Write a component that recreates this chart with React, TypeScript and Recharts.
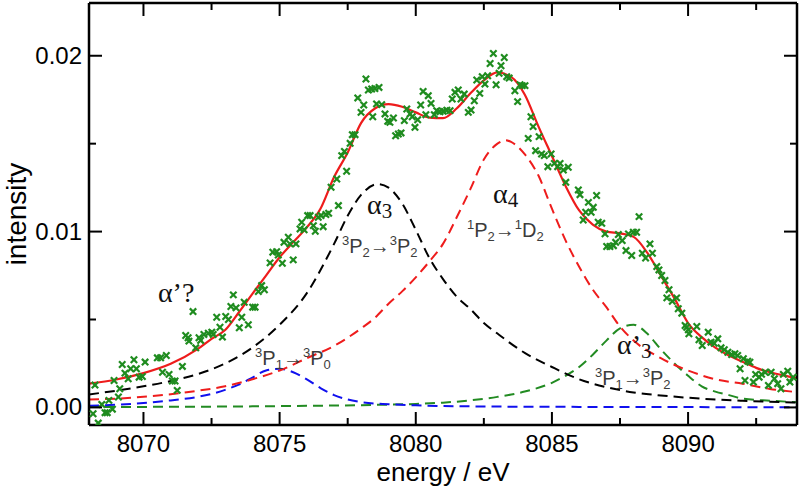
import React from "react";
import { ComposedChart, Line, Scatter, XAxis, YAxis, ReferenceDot } from "recharts";

// measured spectrum [energy eV, intensity]
const measured: [number, number][] = [
  [8068.15, -0.00036], [8068.22, 0.00127], [8068.34, -0.00089], [8068.47, 0.00017], [8068.59, -0.0003],
  [8068.67, -0.0003], [8068.73, 0.0004], [8068.86, -0.0001], [8068.92, 0.00153], [8069.08, 0.00059],
  [8069.13, 0.00106], [8069.22, 0.00244], [8069.32, 0.00195], [8069.44, 0.00163], [8069.53, 0.0022],
  [8069.65, 0.00271], [8069.74, 0.0022], [8069.84, 0.00172], [8069.96, 0.00176], [8070.06, 0.00258],
  [8070.51, 0.00282], [8070.63, 0.00282], [8070.7, 0.002], [8070.84, 0.00295], [8070.94, 0.00188],
  [8071.06, 0.0015], [8071.16, 0.0015], [8071.24, 0.00097], [8071.43, 0.00233], [8071.55, 0.00409],
  [8071.64, 0.00396], [8071.67, 0.00377], [8071.82, 0.00545], [8071.92, 0.00339], [8072.04, 0.00396],
  [8072.1, 0.00381], [8072.22, 0.00415], [8072.38, 0.00422], [8072.51, 0.00428], [8072.56, 0.00415],
  [8072.69, 0.00513], [8072.81, 0.00456], [8072.9, 0.004], [8073.02, 0.00517], [8073.12, 0.005],
  [8073.21, 0.00574], [8073.3, 0.0064], [8073.4, 0.00566], [8073.52, 0.00453], [8073.61, 0.00513],
  [8073.7, 0.00598], [8073.85, 0.0047], [8074.01, 0.0057], [8074.1, 0.0057], [8074.22, 0.00659],
  [8074.34, 0.00693], [8074.44, 0.00669], [8074.65, 0.00822], [8074.75, 0.00883], [8074.89, 0.00886],
  [8074.95, 0.00867], [8075.1, 0.0082], [8075.16, 0.00939], [8075.32, 0.00968], [8075.38, 0.0093],
  [8075.5, 0.00839], [8075.6, 0.0093], [8075.75, 0.01015], [8075.81, 0.01053], [8075.9, 0.0101],
  [8076.03, 0.01091], [8076.12, 0.01091], [8076.24, 0.01034], [8076.31, 0.01002], [8076.42, 0.01081],
  [8076.52, 0.01091], [8076.6, 0.01028], [8076.7, 0.01097], [8076.8, 0.01104], [8076.89, 0.01252],
  [8077.1, 0.01299], [8077.16, 0.01148], [8077.28, 0.01432], [8077.38, 0.01456], [8077.46, 0.01343],
  [8077.59, 0.01502], [8077.67, 0.01551], [8077.77, 0.01551], [8077.87, 0.0176], [8077.99, 0.01678],
  [8078.09, 0.0172], [8078.17, 0.01868], [8078.26, 0.01805], [8078.38, 0.01811], [8078.42, 0.01653],
  [8078.5, 0.01814], [8078.56, 0.01726], [8078.65, 0.0182], [8078.75, 0.01722], [8078.87, 0.01669],
  [8078.97, 0.01627], [8079.05, 0.01621], [8079.18, 0.01646], [8079.26, 0.01545], [8079.36, 0.01555],
  [8079.46, 0.01561], [8079.58, 0.01631], [8079.67, 0.01697], [8079.79, 0.01669], [8079.87, 0.01653],
  [8079.97, 0.01593], [8080.07, 0.01636], [8080.18, 0.0172], [8080.27, 0.01797], [8080.37, 0.01665],
  [8080.46, 0.01773], [8080.56, 0.01729], [8080.68, 0.01665], [8080.77, 0.01688], [8080.89, 0.01682],
  [8081.01, 0.01684], [8081.14, 0.0169], [8081.26, 0.01688], [8081.34, 0.01754], [8081.44, 0.01792],
  [8081.56, 0.01805], [8081.66, 0.01754], [8081.78, 0.01782], [8081.93, 0.01678], [8082.03, 0.01691],
  [8082.15, 0.01744], [8082.24, 0.01862], [8082.35, 0.01786], [8082.44, 0.01881], [8082.54, 0.01839],
  [8082.64, 0.01886], [8082.73, 0.01956], [8082.85, 0.02013], [8082.95, 0.01835], [8083.06, 0.019],
  [8083.13, 0.01943], [8083.25, 0.0199], [8083.34, 0.01881], [8083.43, 0.01873], [8083.64, 0.01801],
  [8083.74, 0.01739], [8083.83, 0.01835], [8083.91, 0.0183], [8084.01, 0.0183], [8084.13, 0.0153],
  [8084.23, 0.01653], [8084.31, 0.01597], [8084.4, 0.0146], [8084.53, 0.0154], [8084.62, 0.01441],
  [8084.72, 0.01432], [8084.85, 0.01369], [8084.97, 0.01441], [8085.09, 0.01388], [8085.21, 0.01369],
  [8085.3, 0.01388], [8085.42, 0.0135], [8085.51, 0.0128], [8085.6, 0.01366], [8085.97, 0.01237],
  [8086.03, 0.0121], [8086.15, 0.01066], [8086.24, 0.0111], [8086.34, 0.01166], [8086.44, 0.0111],
  [8086.52, 0.01138], [8086.64, 0.01205], [8086.7, 0.01053], [8086.83, 0.01047], [8086.95, 0.00987],
  [8087.01, 0.00915], [8087.13, 0.00915], [8087.26, 0.0092], [8087.34, 0.00939], [8087.44, 0.00983],
  [8087.58, 0.00949], [8087.72, 0.00892], [8087.81, 0.00987], [8087.93, 0.00864], [8087.99, 0.00996],
  [8088.11, 0.00996], [8088.2, 0.01085], [8088.32, 0.00877], [8088.44, 0.0085], [8088.6, 0.0093],
  [8088.69, 0.00877], [8088.85, 0.00801], [8088.93, 0.00782], [8089.03, 0.0075], [8089.15, 0.00722],
  [8089.22, 0.00623], [8089.3, 0.00669], [8089.42, 0.00604], [8089.58, 0.00623], [8089.64, 0.00561],
  [8089.77, 0.00536], [8089.89, 0.00466], [8089.95, 0.00456], [8090.01, 0.00441], [8090.03, 0.00419],
  [8090.32, 0.0046], [8090.4, 0.00385], [8090.52, 0.00352], [8090.74, 0.00428], [8090.84, 0.00371],
  [8090.96, 0.00365], [8091.09, 0.0039], [8091.21, 0.00339], [8091.33, 0.00328], [8091.46, 0.00314],
  [8091.6, 0.00301], [8091.72, 0.00305], [8091.82, 0.00295], [8091.91, 0.0022], [8092.03, 0.00277],
  [8092.09, 0.00153], [8092.19, 0.00263], [8092.27, 0.00257], [8092.4, 0.00144], [8092.48, 0.00188],
  [8092.61, 0.00172], [8092.7, 0.00188], [8092.83, 0.002], [8092.95, 0.00125], [8093.05, 0.002],
  [8093.17, 0.00163], [8093.29, 0.00135], [8093.41, 0.00106], [8093.5, 0.00188], [8093.66, 0.00206],
  [8093.74, 0.00144], [8093.86, 0.00172],
];

// total fit (red solid)
const fitTotal: [number, number][] = [
  [8068, 0.00135], [8069, 0.00159], [8070, 0.00195], [8071, 0.00248], [8072, 0.00333], [8072.5, 0.0039],
  [8073, 0.0044], [8073.5, 0.0054], [8074, 0.00646], [8074.5, 0.0075], [8075, 0.00854], [8075.5, 0.0094],
  [8076, 0.01024], [8076.5, 0.0113], [8077, 0.0131], [8077.5, 0.0145], [8078, 0.0162], [8078.5, 0.017],
  [8079, 0.01725], [8079.5, 0.0171], [8080, 0.01678], [8080.5, 0.01648], [8081, 0.01645], [8081.5, 0.017],
  [8082, 0.01785], [8082.5, 0.0186], [8083, 0.01905], [8083.5, 0.0188], [8084, 0.0178], [8084.5, 0.016],
  [8085, 0.0143], [8085.5, 0.0126], [8086, 0.0112], [8086.5, 0.0104], [8087, 0.01], [8087.5, 0.0099],
  [8088, 0.0097], [8088.5, 0.0088], [8089, 0.0075], [8089.5, 0.0062], [8090, 0.0048], [8090.5, 0.004],
  [8091, 0.0034], [8091.5, 0.00295], [8092, 0.0026], [8092.5, 0.00225], [8093, 0.002], [8093.5, 0.00182],
  [8094, 0.00167],
];

// alpha3 component (black dashed)
const alpha3: [number, number][] = [
  [8068, 0.00074], [8069, 0.00095], [8070, 0.0012], [8071, 0.0015], [8072, 0.0019], [8073, 0.0025],
  [8074, 0.0034], [8075, 0.0047], [8076, 0.0065], [8077, 0.0093], [8077.5, 0.0109], [8078, 0.0121],
  [8078.6, 0.0127], [8079, 0.0125], [8079.5, 0.0116], [8080, 0.0101], [8080.5, 0.0085], [8081, 0.0073],
  [8081.5, 0.0063], [8082, 0.0056], [8082.5, 0.0048], [8083, 0.0042], [8084, 0.0031], [8085, 0.0023],
  [8086, 0.0016], [8087, 0.00115], [8088, 0.00085], [8089, 0.00068], [8090, 0.00055], [8091, 0.00045],
  [8092, 0.00038], [8093, 0.00032], [8094, 0.00028],
];

// alpha4 component (red dashed)
const alpha4: [number, number][] = [
  [8068, 0.00045], [8069, 0.0005], [8070, 0.0006], [8071, 0.00075], [8072, 0.00095], [8073, 0.0012],
  [8074, 0.0016], [8075, 0.0021], [8076, 0.0028], [8077, 0.0035], [8078, 0.0045], [8078.5, 0.0051],
  [8079, 0.0059], [8079.5, 0.0066], [8080, 0.0074], [8080.5, 0.0083], [8081, 0.0093], [8081.5, 0.0108],
  [8082, 0.0124], [8082.5, 0.0141], [8083, 0.015], [8083.3, 0.0152], [8083.5, 0.0151], [8084, 0.0144],
  [8084.5, 0.0132], [8085, 0.0113], [8085.5, 0.0095], [8086, 0.008], [8086.5, 0.0067], [8087, 0.0057],
  [8087.5, 0.0046], [8088, 0.0038], [8089, 0.0028], [8090, 0.0021], [8091, 0.0016], [8092, 0.00135],
  [8093, 0.00105], [8094, 0.00087],
];

// 3P1->3P0 component (blue dashed)
const p1p0: [number, number][] = [
  [8068, 0.0001], [8069, 0.00015], [8070, 0.00025], [8071, 0.0004], [8072, 0.0006], [8073, 0.001],
  [8073.5, 0.0013], [8074, 0.0017], [8074.5, 0.0021], [8075, 0.0022], [8075.5, 0.002], [8076, 0.0016],
  [8076.5, 0.0011], [8077, 0.0007], [8077.5, 0.00045], [8078, 0.0003], [8079, 0.00018], [8080, 0.00012],
  [8081, 0.00008], [8082, 0.00006], [8084, 0.00004], [8086, 0.00003], [8088, 0.00002], [8090, 0.00002],
  [8092, 0.00001], [8094, 0.00001],
];

// alpha'3 component (green dashed)
const alphaP3: [number, number][] = [
  [8068, 0.00002], [8070, 0.00003], [8072, 0.00004], [8074, 0.00006], [8076, 0.00009], [8078, 0.00013],
  [8080, 0.0002], [8081, 0.00027], [8082, 0.0004], [8083, 0.0006], [8084, 0.0009], [8085, 0.0014],
  [8085.5, 0.0018], [8086, 0.0023], [8086.5, 0.003], [8087, 0.0038], [8087.5, 0.0045], [8088, 0.0047],
  [8088.5, 0.0042], [8089, 0.0033], [8089.5, 0.0025], [8090, 0.0018], [8090.5, 0.0012], [8091, 0.0009],
  [8091.5, 0.0007], [8092, 0.0005], [8093, 0.00038], [8094, 0.0003],
];

const xTicks = [8070, 8072.5, 8075, 8077.5, 8080, 8082.5, 8085, 8087.5, 8090, 8092.5];
const yTicks = [0, 0.005, 0.01, 0.015, 0.02];

// peak labels and transition labels
const peakLabels = [
  { e: 8070.53, v: 0.00597, main: "α’?", sub: "" },
  { e: 8078.21, v: 0.01102, main: "α", sub: "3" },
  { e: 8082.84, v: 0.01165, main: "α", sub: "4" },
  { e: 8087.39, v: 0.00305, main: "α’", sub: "3" },
];
const transitions = [
  { e: 8077.29, v: 0.0088, from: ["3", "P", "2"], to: ["3", "P", "2"] },
  { e: 8081.88, v: 0.00972, from: ["1", "P", "2"], to: ["1", "D", "2"] },
  { e: 8074.1, v: 0.00244, from: ["3", "P", "1"], to: ["3", "P", "0"] },
  { e: 8086.58, v: 0.0013, from: ["3", "P", "1"], to: ["3", "P", "2"] },
];

const toPts = (arr: [number, number][]) => arr.map(([x, y]) => ({ x, y }));

const SANS = "'Liberation Sans', Arial, Helvetica, sans-serif";
const SERIF = "'Liberation Serif', 'Times New Roman', serif";
const GREEN = "#1f8c1f";

const isMajorX = (v: number) => v % 5 === 0;
const isMajorY = (v: number) => Math.abs(v * 100 - Math.round(v * 100)) < 1e-6;

const BottomTick = (p: any) => {
  const major = isMajorX(p.payload.value);
  return (
    <g>
      <line x1={p.x} x2={p.x} y1={p.y} y2={p.y - (major ? 13 : 7)} stroke="#000" strokeWidth={2} />
      {major && (
        <text x={p.x} y={p.y + 27} textAnchor="middle" fontSize={24} fontFamily={SANS} fill="#000">
          {p.payload.value}
        </text>
      )}
    </g>
  );
};

const TopTick = (p: any) => {
  const major = isMajorX(p.payload.value);
  return <line x1={p.x} x2={p.x} y1={p.y} y2={p.y + (major ? 13 : 7)} stroke="#000" strokeWidth={2} />;
};

const LeftTick = (p: any) => {
  const major = isMajorY(p.payload.value);
  return (
    <g>
      <line x1={p.x} x2={p.x + (major ? 13 : 7)} y1={p.y} y2={p.y} stroke="#000" strokeWidth={2} />
      {major && (
        <text x={p.x - 7} y={p.y + 8} textAnchor="end" fontSize={24} fontFamily={SANS} fill="#000">
          {p.payload.value.toFixed(2)}
        </text>
      )}
    </g>
  );
};

const RightTick = (p: any) => {
  const major = isMajorY(p.payload.value);
  return <line x1={p.x} x2={p.x - (major ? 13 : 7)} y1={p.y} y2={p.y} stroke="#000" strokeWidth={2} />;
};

const CrossMark = (p: any) => {
  const { cx, cy } = p;
  if (cx == null || cy == null) return <g />;
  const s = 3.2;
  return (
    <g stroke={GREEN} strokeWidth={2.2}>
      <line x1={cx - s} y1={cy - s} x2={cx + s} y2={cy + s} />
      <line x1={cx - s} y1={cy + s} x2={cx + s} y2={cy - s} />
    </g>
  );
};

const PeakLabel = ({ cx, cy, main, sub }: any) => (
  <text x={cx} y={cy} fontSize={28} fontFamily={SERIF} fill="#111">
    {main}
    {sub && (
      <tspan fontSize={21} dy={4}>
        {sub}
      </tspan>
    )}
  </text>
);

const TransitionLabel = ({ cx, cy, from, to }: any) => (
  <text x={cx} y={cy} fontSize={20} fontFamily={SANS} fill="#3c3c3c">
    <tspan fontSize={13} dy={-8}>{from[0]}</tspan>
    <tspan dy={8}>{from[1]}</tspan>
    <tspan fontSize={13} dy={4}>{from[2]}</tspan>
    <tspan dy={-4}>→</tspan>
    <tspan fontSize={13} dy={-8}>{to[0]}</tspan>
    <tspan dy={8}>{to[1]}</tspan>
    <tspan fontSize={13} dy={4}>{to[2]}</tspan>
  </text>
);

const XTitle = (p: any) => {
  const vb = p.viewBox;
  return (
    <text x={vb.x + vb.width / 2} y={vb.y + 56} textAnchor="middle" fontSize={26} fontFamily={SANS} fill="#000">
      energy / eV
    </text>
  );
};

const YTitle = (p: any) => {
  const vb = p.viewBox;
  const cx = 26;
  const cy = vb.y + vb.height / 2;
  return (
    <text x={cx} y={cy} textAnchor="middle" fontSize={28} fontFamily={SANS} fill="#000" transform={`rotate(-90 ${cx} ${cy})`}>
      intensity
    </text>
  );
};

const frameLine = { stroke: "#000", strokeWidth: 2.5 };

export default function App() {
  return (
    <div style={{ position: "absolute", left: 0, top: 0, background: "#fff" }}>
      <ComposedChart width={800} height={486} margin={{ top: 2, right: 2, bottom: 0, left: 0 }}>
        <XAxis
          xAxisId="b"
          dataKey="x"
          type="number"
          domain={[8068, 8094]}
          allowDataOverflow
          ticks={xTicks}
          interval={0}
          tickSize={0}
          tickMargin={0}
          tickLine={false}
          tick={<BottomTick />}
          height={61}
          axisLine={frameLine}
          label={<XTitle />}
        />
        <XAxis
          xAxisId="t"
          orientation="top"
          dataKey="x"
          type="number"
          domain={[8068, 8094]}
          allowDataOverflow
          ticks={xTicks}
          interval={0}
          tickSize={0}
          tickMargin={0}
          tickLine={false}
          tick={<TopTick />}
          height={1}
          axisLine={frameLine}
        />
        <YAxis
          yAxisId="l"
          dataKey="y"
          type="number"
          domain={[-0.001, 0.023]}
          allowDataOverflow
          ticks={yTicks}
          interval={0}
          tickSize={0}
          tickMargin={0}
          tickLine={false}
          tick={<LeftTick />}
          width={89}
          axisLine={frameLine}
          label={<YTitle />}
        />
        <YAxis
          yAxisId="r"
          orientation="right"
          dataKey="y"
          type="number"
          domain={[-0.001, 0.023]}
          allowDataOverflow
          ticks={yTicks}
          interval={0}
          tickSize={0}
          tickMargin={0}
          tickLine={false}
          tick={<RightTick />}
          width={1}
          axisLine={frameLine}
        />
        <Scatter xAxisId="b" yAxisId="l" data={toPts(measured)} dataKey="y" shape={<CrossMark />} isAnimationActive={false} />
        <Line xAxisId="b" yAxisId="l" data={toPts(alphaP3)} dataKey="y" type="monotone" dot={false} stroke="#228b22" strokeWidth={2} strokeDasharray="10 6" isAnimationActive={false} />
        <Line xAxisId="b" yAxisId="l" data={toPts(p1p0)} dataKey="y" type="monotone" dot={false} stroke="#1010ee" strokeWidth={2} strokeDasharray="10 6" isAnimationActive={false} />
        <Line xAxisId="b" yAxisId="l" data={toPts(alpha4)} dataKey="y" type="monotone" dot={false} stroke="#ee1c1c" strokeWidth={2} strokeDasharray="10 6" isAnimationActive={false} />
        <Line xAxisId="b" yAxisId="l" data={toPts(alpha3)} dataKey="y" type="monotone" dot={false} stroke="#000" strokeWidth={2} strokeDasharray="10 6" isAnimationActive={false} />
        <Line xAxisId="b" yAxisId="l" data={toPts(fitTotal)} dataKey="y" type="monotone" dot={false} stroke="#ee1c1c" strokeWidth={2.2} isAnimationActive={false} />
        <Line xAxisId="t" yAxisId="r" data={toPts(fitTotal)} dataKey="y" type="monotone" dot={false} stroke="none" strokeOpacity={0} isAnimationActive={false} />
        {peakLabels.map((l, i) => (
          <ReferenceDot key={"p" + i} xAxisId="b" yAxisId="l" x={l.e} y={l.v} r={0} shape={(sp: any) => <PeakLabel cx={sp.cx} cy={sp.cy} main={l.main} sub={l.sub} />} />
        ))}
        {transitions.map((t, i) => (
          <ReferenceDot key={"t" + i} xAxisId="b" yAxisId="l" x={t.e} y={t.v} r={0} shape={(sp: any) => <TransitionLabel cx={sp.cx} cy={sp.cy} from={t.from} to={t.to} />} />
        ))}
      </ComposedChart>
    </div>
  );
}
